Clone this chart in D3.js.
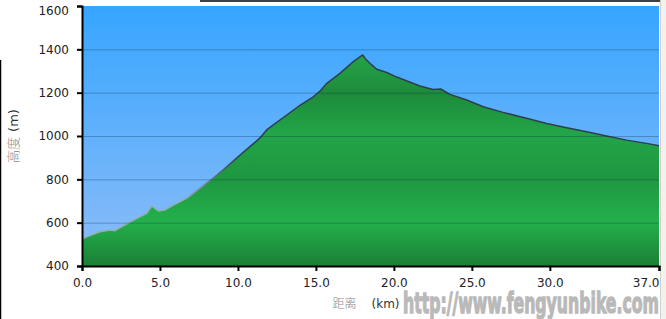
<!DOCTYPE html>
<html>
<head>
<meta charset="utf-8">
<script src="https://cdn.jsdelivr.net/npm/d3@7"></script>
<style>
  body { margin: 0; background: #fff; }
  svg { display: block; }
  .tick text { font-family: "DejaVu Sans", Verdana, sans-serif; font-size: 12px; fill: #222; }
</style>
</head>
<body>
<svg></svg>
<script>
// elevation profile data
var distKm = [0, 0.5, 1.15, 1.8, 2.1, 2.7, 3.3, 3.8, 4.15, 4.47, 4.9, 5.3, 5.85, 6.7, 7.57,
              8.4, 9.0, 9.7, 10.1, 10.77, 11.4, 11.84, 12.27, 13.13, 14.0, 14.83, 15.3, 15.7,
              16.54, 17.4, 18.0, 18.15, 18.58, 18.9, 19.54, 20.18, 20.8, 21.67, 22.5, 23.0,
              23.6, 24.67, 25.73, 27.0, 28.5, 29.8, 31.08, 32.36, 33.64, 34.92, 36.2, 37.0];
var elevM = [525, 540, 558, 566, 563, 588, 612, 630, 643, 677, 654, 658, 681, 712, 758,
             805, 840, 884, 910, 951, 990, 1028, 1051, 1097, 1143, 1181, 1210, 1243,
             1289, 1343, 1374, 1358, 1328, 1308, 1293, 1272, 1255, 1231, 1215, 1217,
             1192, 1166, 1135, 1109, 1082, 1058, 1038, 1020, 1000, 981, 966, 955];
var xTicks = [0, 5, 10, 15, 20, 25, 30, 37];
var yTicks = [400, 600, 800, 1000, 1200, 1400, 1600];
var gridValues = [600, 800, 1000, 1200, 1400];

var width = 666, height = 319;
var margin = {left: 82, top: 6, right: 7, bottom: 53};

var svg = d3.select("svg").attr("width", width).attr("height", height);

var x = d3.scaleLinear().domain([0, 37]).range([margin.left, width - margin.right]);
var y = d3.scaleLinear().domain([400, 1600]).range([height - margin.bottom, margin.top]);

var points = distKm.map(function(d, i) { return {km: d, m: elevM[i]}; });

// gradients
var defs = svg.append("defs");
var sky = defs.append("linearGradient").attr("id", "sky")
    .attr("gradientUnits", "userSpaceOnUse")
    .attr("x1", 0).attr("x2", 0).attr("y1", y(1600)).attr("y2", y(400));
sky.append("stop").attr("offset", 0).attr("stop-color", "#36a5ff");
sky.append("stop").attr("offset", 1).attr("stop-color", "#8ebdf8");

var grass = defs.append("linearGradient").attr("id", "grass")
    .attr("gradientUnits", "userSpaceOnUse")
    .attr("x1", 0).attr("x2", 0).attr("y1", y(1600)).attr("y2", y(400));
[[0.17, "#25a64a"], [0.34, "#1e8b3a"], [0.49, "#22a548"], [0.66, "#1f9741"],
 [0.83, "#23b04c"], [1, "#1b7f35"]].forEach(function(s) {
    grass.append("stop").attr("offset", s[0]).attr("stop-color", s[1]);
});

var edge = defs.append("linearGradient").attr("id", "edge")
    .attr("gradientUnits", "userSpaceOnUse")
    .attr("x1", 0).attr("x2", 0).attr("y1", y(1600)).attr("y2", y(400));
edge.append("stop").attr("offset", 0.58).attr("stop-color", "#2c3f4e");
edge.append("stop").attr("offset", 0.75).attr("stop-color", "#8fb0ac");

// frame bits of the screenshot
svg.append("rect").attr("x", 660).attr("y", 0).attr("width", 6).attr("height", height)
    .attr("fill", "#f4f1ea");
svg.append("line").attr("x1", 660.5).attr("x2", 660.5).attr("y1", 0).attr("y2", height)
    .attr("stroke", "#cfcfcf");
svg.append("line").attr("x1", 200).attr("x2", 660).attr("y1", 1).attr("y2", 1)
    .attr("stroke", "#000").attr("stroke-width", 1.5);
svg.append("line").attr("x1", 0.5).attr("x2", 0.5).attr("y1", 60).attr("y2", height)
    .attr("stroke", "#000").attr("stroke-width", 1.5);

// plot background
svg.append("rect")
    .attr("x", x(0)).attr("y", y(1600))
    .attr("width", x(37) - x(0)).attr("height", y(400) - y(1600))
    .attr("fill", "url(#sky)");

// elevation area
var area = d3.area()
    .x(function(d) { return x(d.km); })
    .y0(y(400))
    .y1(function(d) { return y(d.m); });
var line = d3.line()
    .x(function(d) { return x(d.km); })
    .y(function(d) { return y(d.m); });

svg.append("path").datum(points).attr("d", area).attr("fill", "url(#grass)");
svg.append("path").datum(points).attr("d", line)
    .attr("fill", "none").attr("stroke", "url(#edge)").attr("stroke-width", 1.5)
    .attr("stroke-linejoin", "round");

// grid lines
svg.selectAll(".grid").data(gridValues).enter().append("line")
    .attr("class", "grid")
    .attr("x1", x(0)).attr("x2", x(37))
    .attr("y1", function(d) { return y(d) + 0.5; })
    .attr("y2", function(d) { return y(d) + 0.5; })
    .attr("stroke", "#0b2a4a").attr("stroke-opacity", 0.3);

// axes
var xAxis = svg.append("g")
    .attr("transform", "translate(0," + y(400) + ")")
    .call(d3.axisBottom(x).tickValues(xTicks).tickSize(5).tickPadding(7)
        .tickFormat(d3.format(".1f")));
var yAxis = svg.append("g")
    .attr("transform", "translate(" + x(0) + ",0)")
    .call(d3.axisLeft(y).tickValues(yTicks).tickSize(5).tickPadding(8)
        .tickFormat(d3.format("d")));

[xAxis, yAxis].forEach(function(g) {
    g.select(".domain").attr("stroke", "#000").attr("stroke-width", 2);
    g.selectAll(".tick line").attr("stroke", "#000").attr("stroke-width", 2);
});
// keep edge labels inside the canvas
xAxis.selectAll(".tick text").filter(function(d) { return d === 37; })
    .attr("text-anchor", "end").attr("x", 0);
yAxis.selectAll(".tick text").filter(function(d) { return d === 1600; })
    .attr("y", 5);

// axis titles
var cjk = '"Noto Sans CJK SC", "DejaVu Sans", sans-serif';
var yTitle = svg.append("text")
    .attr("transform", "translate(18," + ((y(400) + y(1600)) / 2) + ") rotate(-90)")
    .attr("text-anchor", "middle")
    .style("font-size", "13px");
yTitle.append("tspan").style("font-family", cjk).style("font-weight", 300)
    .attr("fill", "#888").text("高度");
yTitle.append("tspan").style("font-family", '"DejaVu Sans", sans-serif')
    .attr("fill", "#333").attr("dx", 5).text("(m)");

var xTitle = svg.append("text")
    .attr("x", 366).attr("y", 308)
    .attr("text-anchor", "middle")
    .style("font-size", "12px");
xTitle.append("tspan").style("font-family", cjk).style("font-weight", 300)
    .attr("fill", "#888").text("距离");
xTitle.append("tspan").style("font-family", '"DejaVu Sans", sans-serif')
    .attr("fill", "#333").attr("dx", 15).text("(km)");

// watermark
svg.append("text")
    .attr("x", 403).attr("y", 313)
    .attr("textLength", 256).attr("lengthAdjust", "spacingAndGlyphs")
    .style("font-family", '"Liberation Sans Narrow", "DejaVu Sans Condensed", "Liberation Sans", sans-serif')
    .style("font-weight", "bold").style("font-size", "29px")
    .attr("fill", "#b9b9b9").attr("stroke", "#b9b9b9").attr("stroke-width", 1.3)
    .text("http://www.fengyunbike.com");
</script>
</body>
</html>
